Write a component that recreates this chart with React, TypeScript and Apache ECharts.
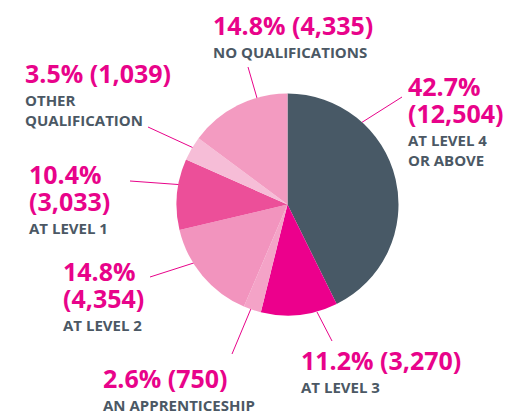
import React, { useEffect, useRef } from "react";
import * as echarts from "echarts";

const categories = [
  "AT LEVEL 4\nOR ABOVE",
  "AT LEVEL 3",
  "AN APPRENTICESHIP",
  "AT LEVEL 2",
  "AT LEVEL 1",
  "OTHER\nQUALIFICATION",
  "NO QUALIFICATIONS",
];
const counts = [12504, 3270, 750, 4354, 3033, 1039, 4335];
const percents = [42.7, 11.2, 2.6, 14.8, 10.4, 3.5, 14.8];
const colors = ["#485966", "#ec008c", "#f4a3c7", "#f294be", "#ec4f99", "#f6bdd7", "#f39bc1"];

// label layout: top-left of text block, whether numbers wrap, leader line (inner -> outer)
const labelPos = [
  { x: 408, y: 72, split: true, line: [[353, 128], [402, 97]] },
  { x: 301, y: 346, split: false, line: [[317, 312], [332, 341]] },
  { x: 103, y: 364, split: false, line: [[255, 299], [232, 354]] },
  { x: 63, y: 257, split: true, line: [[203, 260], [150, 277]] },
  { x: 29, y: 160, split: true, line: [[185, 185], [130, 181]] },
  { x: 25, y: 59, split: false, line: [[198, 150], [148, 127]] },
  { x: 213, y: 11, split: false, line: [[259, 105], [248, 67]] },
];

const MAGENTA = "#e8038a";
const GRAY = "#4b5864";
const FONT = "'Open Sans', 'Noto Sans', sans-serif";

export default function App() {
  const ref = useRef<HTMLDivElement>(null);
  useEffect(() => {
    if (!ref.current) return;
    const chart = echarts.init(ref.current, null, { renderer: "svg" });
    chart.setOption({
      animation: false,
      backgroundColor: "#ffffff",
      series: [
        {
          type: "pie",
          center: [287.5, 204.5],
          radius: 111,
          startAngle: 90,
          clockwise: true,
          data: counts.map((v, i) => ({
            value: v,
            name: categories[i],
            itemStyle: { color: colors[i] },
          })),
          label: {
            show: true,
            position: "outside",
            formatter: (p: any) => {
              const i = p.dataIndex;
              const pct = `${percents[i].toFixed(1)}%`;
              const cnt = `(${counts[i].toLocaleString("en-US")})`;
              const num = labelPos[i].split
                ? `{v|${pct}}\n{v|${cnt}}`
                : `{v|${pct} ${cnt}}`;
              const names = categories[i]
                .split("\n")
                .map((s) => `{n|${s}}`)
                .join("\n");
              return `${num}\n{g| }\n${names}`;
            },
            rich: {
              v: {
                fontSize: 25,
                fontWeight: 700,
                color: MAGENTA,
                lineHeight: 27,
                fontFamily: FONT,
              },
              g: { fontSize: 1, lineHeight: 4 },
              n: {
                fontSize: 15,
                fontWeight: 700,
                color: GRAY,
                lineHeight: 20,
                fontFamily: FONT,
              },
            },
          },
          labelLine: {
            show: true,
            length: 5,
            length2: 5,
            lineStyle: { color: MAGENTA, width: 1 },
          },
          labelLayout: (params: any) => {
            const lp = labelPos[params.dataIndex];
            return {
              x: lp.x,
              y: lp.y,
              align: "left",
              verticalAlign: "top",
              labelLinePoints: [lp.line[0], lp.line[1], lp.line[1]],
            };
          },
          emphasis: { disabled: true },
        },
      ],
    });
    return () => chart.dispose();
  }, []);
  return <div ref={ref} style={{ width: 522, height: 417, position: "absolute", left: 0, top: 0 }} />;
}
